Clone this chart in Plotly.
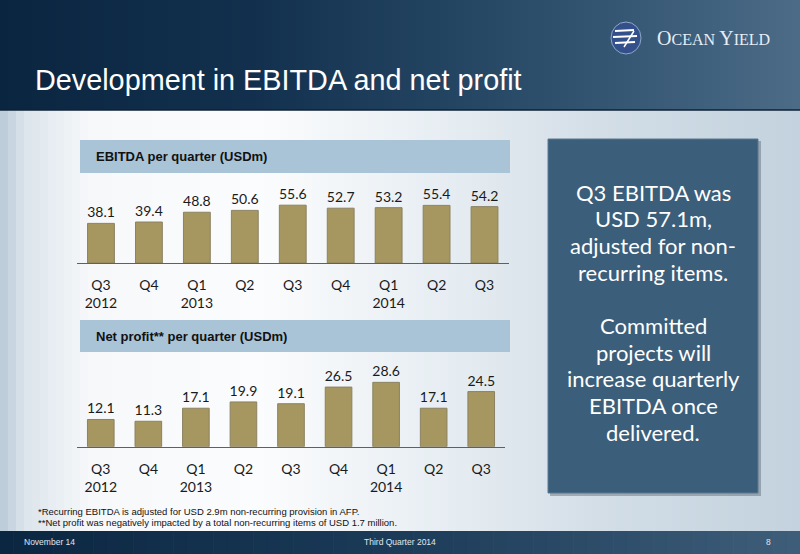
import plotly.graph_objects as go

W, H = 800, 554

periods = ["Q3 2012", "Q4 2012", "Q1 2013", "Q2 2013", "Q3 2013",
           "Q4 2013", "Q1 2014", "Q2 2014", "Q3 2014"]
tick_labels = ["Q3<br>2012", "Q4", "Q1<br>2013", "Q2", "Q3",
               "Q4", "Q1<br>2014", "Q2", "Q3"]
ebitda = [38.1, 39.4, 48.8, 50.6, 55.6, 52.7, 53.2, 55.4, 54.2]
net_profit = [12.1, 11.3, 17.1, 19.9, 19.1, 26.5, 28.6, 17.1, 24.5]

title_text = "Development in EBITDA and net profit"
ebitda_title = "EBITDA per quarter (USDm)"
np_title = "Net profit** per quarter (USDm)"
panel_lines = ["Q3 EBITDA was", "USD 57.1m,", "adjusted for non-", "recurring items.", "",
               "Committed", "projects will", "increase quarterly", "EBITDA once", "delivered."]
footnotes = ["*Recurring EBITDA is adjusted for USD 2.9m non-recurring provision in AFP.",
             "**Net profit was negatively impacted by a total non-recurring items of USD 1.7 million."]


def X(x):
    return x / W


def Y(y):
    return 1 - y / H


def hexrgb(h):
    h = h.lstrip('#')
    return [int(h[i:i + 2], 16) for i in (0, 2, 4)]


def interp(stops, t):
    for i in range(len(stops) - 1):
        t0, c0 = stops[i]
        t1, c1 = stops[i + 1]
        if t0 <= t <= t1:
            f = 0 if t1 == t0 else (t - t0) / (t1 - t0)
            a, b = hexrgb(c0), hexrgb(c1)
            return "rgb(%d,%d,%d)" % tuple(round(a[k] + (b[k] - a[k]) * f) for k in range(3))
    return stops[-1][1]


shapes = []


def hgrad(x0, x1, y0, y1, stops, n=80):
    step = (x1 - x0) / n
    for i in range(n):
        xa = x0 + i * step
        xb = xa + step + 0.6
        col = interp(stops, (xa + step / 2))
        shapes.append(dict(type="rect", xref="paper", yref="paper", layer="below",
                           x0=X(xa), x1=X(min(xb, x1)), y0=Y(y1), y1=Y(y0),
                           fillcolor=col, line=dict(width=0)))


# body background
hgrad(0, 800, 110, 531, [(0, "#b8c8d6"), (25, "#dce5ec"), (90, "#f6f8fa"), (260, "#fbfcfd"),
                         (450, "#e6edf2"), (600, "#d3dee7"), (800, "#c3d2de")], n=100)
# header
hgrad(0, 800, 0, 110, [(0, "#0a2540"), (250, "#12304d"), (500, "#284a67"), (800, "#4b6b87")], n=100)
# footer
hgrad(0, 800, 531, 554, [(0, "#0b2641"), (400, "#1b3b58"), (800, "#3e5e7a")], n=60)

# header divider
shapes.append(dict(type="line", xref="paper", yref="paper", x0=0, x1=1, y0=Y(110), y1=Y(110),
                   line=dict(color="#0e2236", width=1.5), layer="below"))

# chart title boxes
for (y0, y1) in [(140, 173), (320, 352)]:
    shapes.append(dict(type="rect", xref="paper", yref="paper", layer="below",
                       x0=X(80), x1=X(510), y0=Y(y1), y1=Y(y0),
                       fillcolor="#a9c3d7", line=dict(width=0)))

# right panel shadow and panel
shapes.append(dict(type="rect", xref="paper", yref="paper", layer="below",
                   x0=X(550), x1=X(761), y0=Y(496), y1=Y(141),
                   fillcolor="rgba(60,70,80,0.35)", line=dict(width=0)))
shapes.append(dict(type="rect", xref="paper", yref="paper", layer="below",
                   x0=X(548), x1=X(758), y0=Y(493), y1=Y(139),
                   fillcolor="#3b5e7a", line=dict(color="#5a7890", width=1)))

# logo globe
shapes.append(dict(type="circle", xref="paper", yref="paper", layer="above",
                   x0=X(611), x1=X(641), y0=Y(54), y1=Y(22),
                   fillcolor="#34508a", line=dict(color="#8fa6c8", width=1)))
for (yy, xa, xb) in [(31, 615, 634), (37, 613, 637), (43, 615, 635)]:
    shapes.append(dict(type="line", xref="paper", yref="paper", layer="above",
                       x0=X(xa), x1=X(xb), y0=Y(yy), y1=Y(yy - 1),
                       line=dict(color="white", width=2)))
shapes.append(dict(type="line", xref="paper", yref="paper", layer="above",
                   x0=X(634), x1=X(624), y0=Y(31), y1=Y(47),
                   line=dict(color="white", width=1.5)))

bar_color = "#a6965f"
fig = go.Figure()
fig.add_trace(go.Bar(x=periods, y=ebitda, xaxis="x", yaxis="y",
                     marker=dict(color=bar_color, line=dict(color="#8b8263", width=1)),
                     texttemplate="%{y:.1f}", textposition="outside", cliponaxis=False,
                     constraintext="none",
                     textfont=dict(family="Lato", size=14, color="#1a1a1a")))
fig.add_trace(go.Bar(x=periods, y=net_profit, xaxis="x2", yaxis="y2",
                     marker=dict(color=bar_color, line=dict(color="#8b8263", width=1)),
                     texttemplate="%{y:.1f}", textposition="outside", cliponaxis=False,
                     constraintext="none",
                     textfont=dict(family="Lato", size=14, color="#1a1a1a")))

xcommon = dict(type="category", tickmode="array", tickvals=periods, ticktext=tick_labels,
               showline=True, linecolor="#606060", linewidth=1, ticks="",
               showgrid=False, zeroline=False, ticklabelstandoff=9,
               tickfont=dict(family="Lato", size=14, color="#1a1a1a"), fixedrange=True)
ycommon = dict(showticklabels=False, showgrid=False, zeroline=False, showline=False,
               fixedrange=True)

annotations = []


def ann(x, y, text, size, color, family, xanchor="left", bold=False, **kw):
    annotations.append(dict(xref="paper", yref="paper", x=X(x), y=Y(y), text=("<b>%s</b>" % text) if bold else text,
                            showarrow=False, xanchor=xanchor, yanchor="middle",
                            font=dict(size=size, color=color, family=family), **kw))


ann(33, 80, title_text, 28.8, "white", "Liberation Sans, Arial")
ann(655, 38, "O<span style='font-size:16px'>CEAN</span> Y<span style='font-size:16px'>IELD</span>",
    20, "#e8eef5", "Liberation Serif, DejaVu Serif")
ann(94, 156, ebitda_title, 13, "#111111", "Liberation Sans, Arial", bold=True)
ann(94, 336, np_title, 13, "#111111", "Liberation Sans, Arial", bold=True)
for i, line in enumerate(panel_lines):
    if line:
        ann(653, 192 + i * 26.7, line, 22, "white", "Lato", xanchor="center")
ann(36, 511, footnotes[0], 9.5, "#111111", "Liberation Sans Narrow, Arial Narrow, Arial")
ann(36, 522, footnotes[1], 9.5, "#111111", "Liberation Sans Narrow, Arial Narrow, Arial")
ann(22, 542, "November 14", 8.5, "#e0e6ec", "Liberation Sans Narrow, Arial")
ann(400, 542, "Third Quarter 2014", 8.5, "#e0e6ec", "Liberation Sans Narrow, Arial", xanchor="center")
ann(768, 542, "8", 8.5, "#e0e6ec", "Liberation Sans Narrow, Arial", xanchor="center")

fig.update_layout(
    width=W, height=H, margin=dict(l=0, r=0, t=0, b=0),
    paper_bgcolor="white", plot_bgcolor="rgba(0,0,0,0)",
    showlegend=False, bargap=0.44,
    xaxis=dict(domain=[X(77), X(508.5)], anchor="y", **xcommon),
    yaxis=dict(domain=[Y(263), Y(200.6)], range=[0, 60], anchor="x", **ycommon),
    xaxis2=dict(domain=[X(77), X(505)], anchor="y2", **xcommon),
    yaxis2=dict(domain=[Y(446.7), Y(379.2)], range=[0, 30], anchor="x2", **ycommon),
    shapes=shapes, annotations=annotations,
)

fig.write_html("out.html", config={"displayModeBar": False},
               post_script="document.body.style.margin='0';document.body.style.overflow='hidden';")
